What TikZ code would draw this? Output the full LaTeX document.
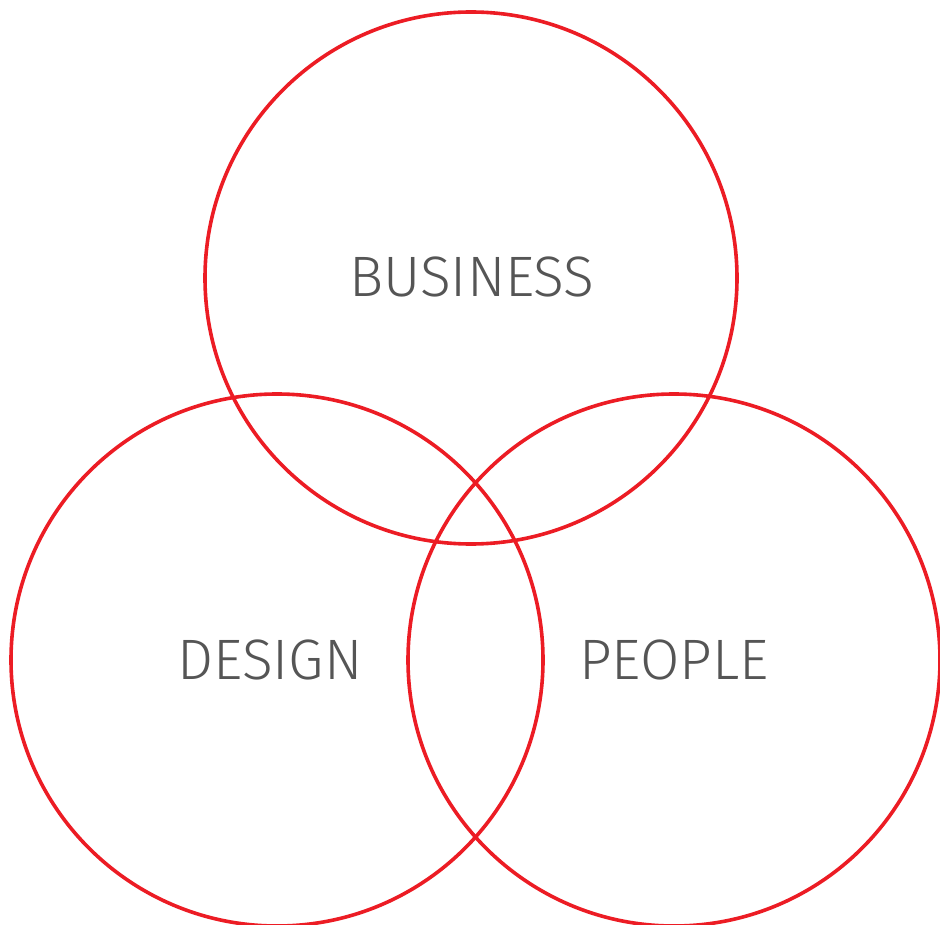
\documentclass[tikz,border=0pt]{standalone}
\usepackage{fontspec}
\setmainfont{Fira Sans Light}
\usepackage{tikz}
\definecolor{vennred}{HTML}{EC1C24}
\definecolor{venntext}{HTML}{555555}
\tikzset{
  set/.style={draw=vennred, line width=3.6pt, circle, minimum size=532pt, inner sep=0pt},
  setlabel/.style={text=venntext, font=\fontsize{57}{62}\selectfont, inner sep=0pt}
}
\begin{document}
\begin{tikzpicture}[x=1pt,y=-1pt]
        \useasboundingbox (0,0) rectangle (940,925);
        % Sets
        \node (cbusiness) [set] at (471,278) {};
        \node (cdesign) [set] at (277,660) {};
        \node (cpeople) [set] at (674,660) {};
        % Labels
        \node (business) [setlabel] at (472,277) {BUSINESS};
        \node (design) [setlabel] at (270,660) {DESIGN};
        \node (people) [setlabel] at (674,660) {PEOPLE};
\end{tikzpicture}
\end{document}
